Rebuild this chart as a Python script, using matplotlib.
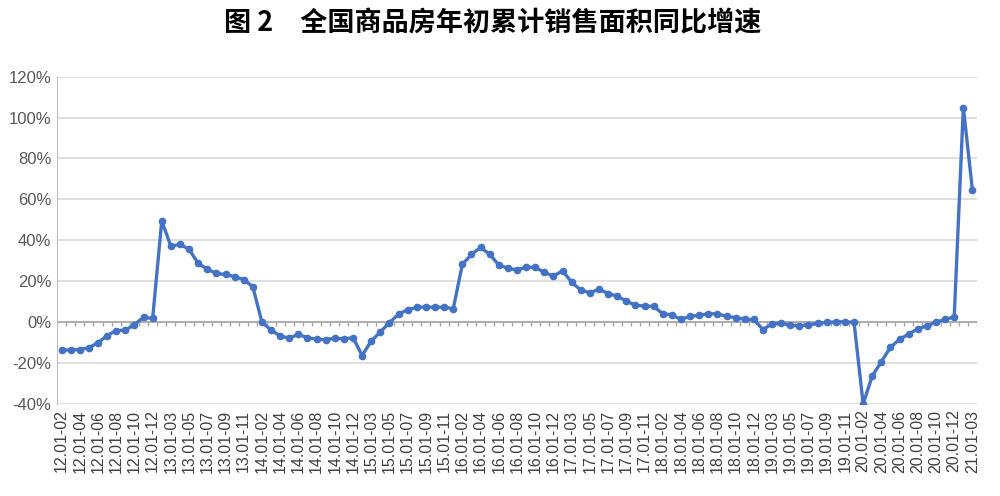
import matplotlib
matplotlib.use("Agg")
import matplotlib.pyplot as plt
from matplotlib.ticker import FuncFormatter

plt.rcParams['font.family'] = ['Liberation Sans', 'Noto Sans CJK SC', 'DejaVu Sans']

# cumulative YoY growth of commercial housing sales area (%)
y2012 = [-13.6, -13.6, -13.4, -12.5, -10.0, -6.6, -4.1, -3.9, -1.2, 2.4, 1.8]
y2013 = [49.5, 37.1, 38.0, 35.6, 28.7, 25.9, 23.8, 23.3, 22.2, 20.8, 17.3]
y2014 = [-0.1, -3.8, -6.8, -7.8, -6.0, -7.6, -8.3, -8.6, -7.8, -8.2, -7.6]
y2015 = [-16.3, -9.2, -4.8, -0.2, 3.9, 6.1, 7.2, 7.5, 7.2, 7.4, 6.5]
y2016 = [28.2, 33.1, 36.5, 33.2, 27.9, 26.4, 25.5, 26.9, 26.8, 24.3, 22.5]
y2017 = [25.1, 19.5, 15.7, 14.3, 16.1, 14.0, 12.7, 10.3, 8.2, 7.9, 7.7]
y2018 = [4.1, 3.6, 1.3, 2.9, 3.3, 4.2, 4.0, 2.9, 2.2, 1.4, 1.3]
y2019 = [-3.6, -0.9, -0.3, -1.6, -1.8, -1.3, -0.6, -0.1, 0.1, 0.2, -0.1]
y2020 = [-39.9, -26.3, -19.3, -12.3, -8.4, -5.8, -3.3, -1.8, 0.0, 1.3, 2.6]
y2021 = [104.9, 64.4]

months = ['01-02', '03', '04', '05', '06', '07', '08', '09', '10', '11', '12']

values = y2012 + y2013 + y2014 + y2015 + y2016 + y2017 + y2018 + y2019 + y2020 + y2021
labels = []
for yr in range(12, 21):
    for m in months:
        labels.append(f"{yr}.01-{m}" if m != '01-02' else f"{yr}.01-02")
labels += ["21.01-02", "21.01-03"]

x = list(range(len(values)))

fig = plt.figure(figsize=(10, 4.96), dpi=100)
ax = fig.add_axes([0.057, 0.1855, 0.92, 0.66])

ax.set_ylim(-40, 120)
ax.set_xlim(-0.5, len(values) - 0.5)
ax.set_yticks(range(-40, 121, 20))
ax.yaxis.set_major_formatter(FuncFormatter(lambda v, p: f"{int(v)}%"))
ax.grid(axis='y', color='#d9d9d9', linewidth=1.2)
ax.set_axisbelow(True)

# category axis crossing at zero with small tick marks
ax.axhline(0, color='#a6a6a6', linewidth=1.2, zorder=1)
ax.vlines([i - 0.5 for i in range(len(values) + 1)], -1.8, 0, color='#a6a6a6', linewidth=1, zorder=1)

ax.plot(x, values, color='#4472c4', linewidth=2.4, marker='o', markersize=4.5, zorder=3)

ax.set_xticks(x[::2])
ax.set_xticklabels(labels[::2], rotation=90, fontsize=11.5, color='#404040')
ax.tick_params(axis='x', length=0, pad=4)
ax.tick_params(axis='y', length=0, labelsize=12, labelcolor='#595959', pad=4)

for s in ['top', 'right', 'bottom']:
    ax.spines[s].set_visible(False)
ax.spines['left'].set_color('#bfbfbf')

fig.text(0.493, 0.952, "图 2　全国商品房年初累计销售面积同比增速", ha='center', va='center',
         fontsize=19.5, fontweight='bold', family=['Noto Sans CJK SC', 'DejaVu Sans'])

fig.savefig("out.png", dpi=100, facecolor='white')
